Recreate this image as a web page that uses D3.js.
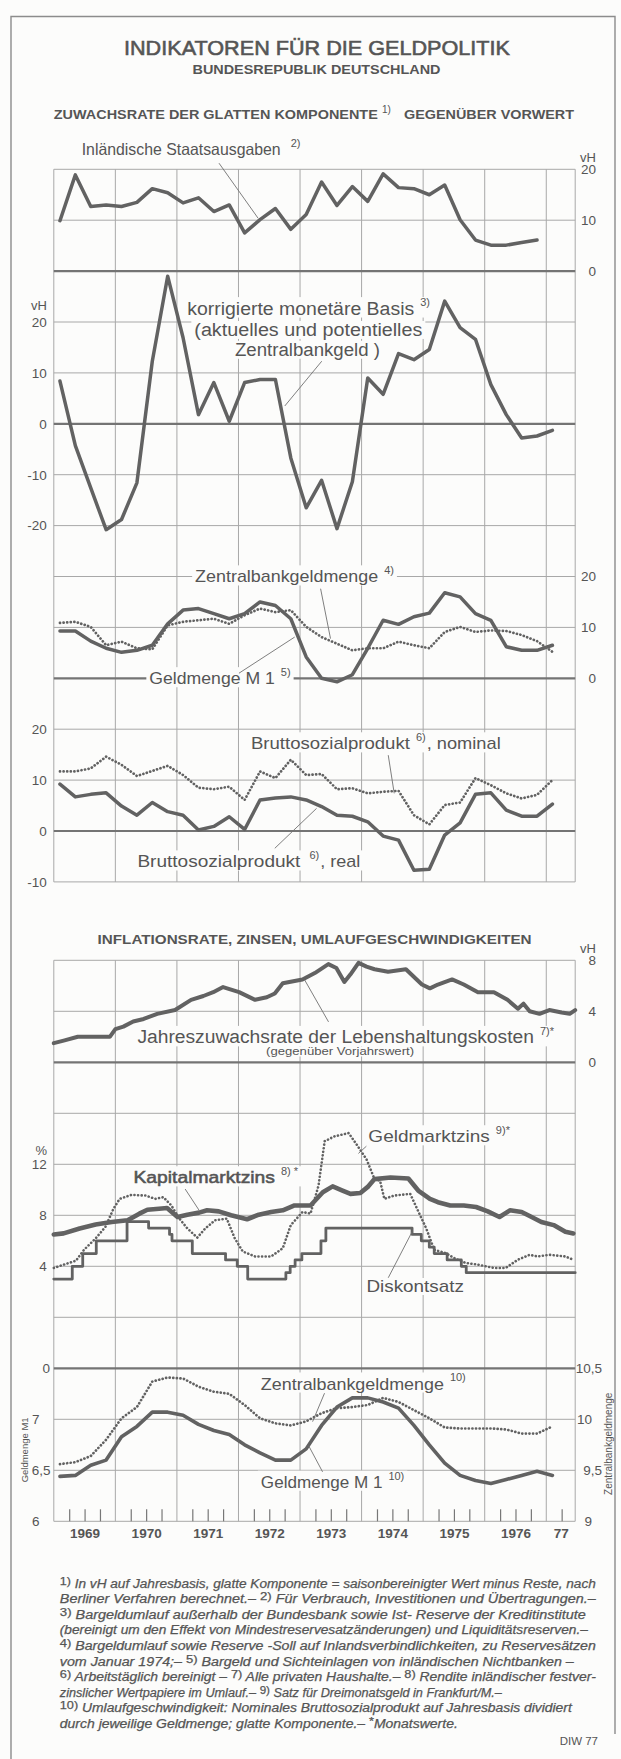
<!DOCTYPE html>
<html>
<head>
<meta charset="utf-8">
<title>Indikatoren für die Geldpolitik</title>
<script src="https://cdn.jsdelivr.net/npm/d3@7"></script>
<style>
  body { margin: 0; background: #fcfcfb; }
  text { font-family: "Liberation Sans", Arial, sans-serif; fill: #555; }
</style>
</head>
<body>
<svg width="621" height="1759"></svg>
<script>
// Werte

const jahre = ["1969", "1970", "1971", "1972", "1973", "1974", "1975", "1976", "77"];

// Quartalswerte ab I/1969 (Zuwachsrate der glatten Komponente, vH)
const staatsausgaben = [9.9, 18.9, 12.7, 13.0, 12.7, 13.5, 16.2, 15.4, 13.4, 14.4, 11.7, 13.0, 7.5, 10.1, 12.3, 8.2,
    11.1, 17.5, 12.9, 16.6, 13.7, 19.1, 16.4, 16.2, 15.0, 16.9, 10.1, 6.1, 5.1, 5.1, 5.6, 6.1];
const monetaereBasis = [8.4, -4.3, -12.6, -20.8, -18.8, -11.6, 12.3, 29.0, 16.9, 1.8, 8.1, 0.5, 8.1, 8.7, 8.7, -6.7,
    -16.5, -11.1, -20.6, -11.4, 9.0, 5.8, 13.8, 12.6, 14.6, 24.1, 18.9, 16.6, 7.7, 1.8, -2.8, -2.4, -1.3];
const zbgMenge = [10.9, 11.1, 10.1, 6.5, 7.2, 5.9, 5.7, 10.4, 11.1, 11.4, 11.7, 10.7, 12.4, 13.7, 13.0, 13.4,
    10.1, 8.1, 6.8, 5.5, 5.9, 5.9, 7.2, 6.5, 5.9, 9.1, 10.1, 9.1, 9.4, 9.3, 8.5, 7.3, 5.2];
const geldmengeM1 = [9.3, 9.3, 7.3, 5.9, 5.1, 5.5, 6.5, 10.7, 13.4, 13.7, 12.7, 11.7, 12.7, 15.0, 14.3, 11.7,
    4.2, 0.0, -0.7, 0.7, 5.9, 11.4, 10.6, 12.1, 12.8, 16.8, 16.0, 12.7, 11.4, 6.2, 5.5, 5.5, 6.5];
const bspNominal = [11.7, 11.7, 12.3, 14.6, 13.0, 10.8, 11.8, 12.8, 11.0, 8.5, 8.2, 8.7, 6.1, 11.7, 10.4, 14.0,
    11.0, 11.2, 8.2, 8.4, 7.4, 7.7, 7.9, 3.1, 1.3, 5.1, 5.6, 10.4, 9.0, 7.4, 6.4, 7.1, 10.0];
const bspReal = [9.2, 6.7, 7.2, 7.5, 4.9, 3.1, 5.6, 3.8, 3.1, 0.2, 0.9, 2.8, 0.3, 6.1, 6.5, 6.7,
    6.1, 4.8, 3.1, 2.9, 1.8, -1.0, -1.8, -7.7, -7.5, -0.8, 1.6, 7.2, 7.5, 4.1, 2.9, 2.9, 5.3];

// Umlaufgeschwindigkeiten (Quartale ab I/1969)
const umlaufM1 = [6.44, 6.45, 6.55, 6.60, 6.83, 6.93, 7.07, 7.07, 7.04, 6.95, 6.89, 6.85, 6.75, 6.67, 6.60, 6.60,
    6.71, 6.94, 7.12, 7.21, 7.21, 7.17, 7.11, 6.94, 6.75, 6.57, 6.45, 6.40, 6.37, 6.41, 6.45, 6.49, 6.45];
const umlaufZbg = [9.56, 9.58, 9.64, 9.80, 10.01, 10.12, 10.37, 10.41, 10.40, 10.32, 10.27, 10.25, 10.14, 10.01, 9.96, 9.94,
    9.98, 10.06, 10.11, 10.12, 10.14, 10.21, 10.17, 10.09, 10.01, 9.92, 9.91, 9.91, 9.91, 9.90, 9.86, 9.86, 9.93];

// Monatswerte: Zeitpunkt (Jahr dezimal) und Wert
const lhkZeit = [1969.00, 1969.16, 1969.39, 1969.68, 1969.91, 1970.00, 1970.13, 1970.29, 1970.46, 1970.68, 1970.97,
    1971.23, 1971.43, 1971.59, 1971.75, 1972.01, 1972.27, 1972.46, 1972.59, 1972.72, 1973.04, 1973.24, 1973.46,
    1973.59, 1973.72, 1973.82, 1973.95, 1974.08, 1974.21, 1974.43, 1974.72, 1974.98, 1975.11, 1975.24, 1975.47,
    1975.66, 1975.89, 1976.15, 1976.37, 1976.54, 1976.63, 1976.73, 1976.89, 1977.05, 1977.25, 1977.38, 1977.47];
const lhkWert = [1.5, 1.7, 2.0, 2.0, 2.0, 2.6, 2.8, 3.2, 3.4, 3.8, 4.1,
    4.9, 5.2, 5.5, 5.9, 5.5, 4.9, 5.1, 5.4, 6.2, 6.5, 7.0, 7.7,
    7.4, 6.3, 6.9, 7.8, 7.5, 7.3, 7.1, 7.3, 6.1, 5.8, 6.1, 6.5,
    6.1, 5.5, 5.5, 4.9, 4.2, 4.6, 4.0, 3.8, 4.1, 3.9, 3.8, 4.1];

const kapitalZeit = [1969.00, 1969.16, 1969.42, 1969.68, 1969.94, 1970.20, 1970.39, 1970.52, 1970.71, 1970.84,
    1971.01, 1971.17, 1971.36, 1971.49, 1971.68, 1971.88, 1972.14, 1972.33, 1972.53, 1972.72, 1972.91, 1973.17,
    1973.37, 1973.53, 1973.69, 1973.82, 1973.98, 1974.11, 1974.21, 1974.47, 1974.76, 1974.92, 1975.11, 1975.24,
    1975.44, 1975.66, 1975.86, 1976.05, 1976.24, 1976.41, 1976.60, 1976.73, 1976.92, 1977.12, 1977.31, 1977.44];
const kapitalWert = [6.50, 6.58, 6.97, 7.28, 7.48, 7.61, 8.13, 8.44, 8.52, 8.57,
    7.87, 8.05, 8.21, 8.39, 8.31, 8.00, 7.69, 8.05, 8.26, 8.39, 8.77, 8.77,
    9.81, 10.27, 9.94, 9.68, 9.75, 10.27, 10.84, 10.97, 10.89, 9.94, 9.29, 9.03,
    8.77, 8.77, 8.65, 8.31, 7.87, 8.39, 8.26, 7.95, 7.48, 7.23, 6.71, 6.58];

const geldmarktZeit = [1969.00, 1969.16, 1969.36, 1969.49, 1969.68, 1969.84, 1969.97, 1970.07, 1970.26, 1970.49,
    1970.65, 1970.78, 1970.91, 1971.04, 1971.17, 1971.33, 1971.46, 1971.62, 1971.81, 1971.94, 1972.07, 1972.27,
    1972.53, 1972.72, 1972.85, 1973.04, 1973.17, 1973.30, 1973.40, 1973.56, 1973.79, 1973.92, 1974.08, 1974.21,
    1974.30, 1974.37, 1974.53, 1974.79, 1974.95, 1975.05, 1975.18, 1975.37, 1975.50, 1975.69, 1975.89, 1976.15,
    1976.34, 1976.54, 1976.73, 1976.86, 1977.05, 1977.31, 1977.44];
const geldmarktWert = [3.87, 4.13, 4.44, 5.29, 6.19, 7.10, 8.52, 9.29, 9.60, 9.55,
    9.29, 9.42, 8.77, 7.74, 6.97, 6.25, 6.97, 7.61, 7.74, 6.19, 5.16, 4.77,
    4.77, 5.42, 7.23, 8.26, 8.13, 10.32, 13.81, 14.19, 14.45, 13.55, 12.39, 10.84,
    10.71, 9.29, 9.55, 9.68, 8.00, 6.97, 5.29, 5.03, 4.65, 4.26, 4.13, 3.87,
    3.87, 4.52, 4.90, 4.77, 4.90, 4.77, 4.52];

// Diskontsatz: Datum der Änderung und neuer Satz
const diskontZeit = [1969.00, 1969.30, 1969.47, 1969.69, 1970.19, 1970.54, 1970.88, 1970.92, 1971.25, 1971.79,
    1971.98, 1972.15, 1972.77, 1972.84, 1972.92, 1973.03, 1973.34, 1973.42, 1974.82, 1974.97, 1975.10, 1975.18,
    1975.39, 1975.62, 1975.70, 1977.47];
const diskontWert = [3.0, 4.0, 5.0, 6.0, 7.5, 7.0, 6.5, 6.0, 5.0, 4.5,
    4.0, 3.0, 3.5, 4.0, 4.5, 5.0, 6.0, 7.0, 6.5, 6.0, 5.5, 5.0,
    4.5, 4.0, 3.5, 3.5];

const fussnoten = [
    [["1)", 1], [" In vH auf Jahresbasis, glatte Komponente = saisonbereinigter Wert minus Reste, nach"]],
    [["Berliner Verfahren berechnet.– "], ["2)", 1], [" Für Verbrauch, Investitionen und Übertragungen.–"]],
    [["3)", 1], [" Bargeldumlauf außerhalb der Bundesbank sowie Ist- Reserve der Kreditinstitute"]],
    [["(bereinigt um den Effekt von Mindestreservesatzänderungen) und Liquiditätsreserven.–"]],
    [["4)", 1], [" Bargeldumlauf sowie Reserve -Soll auf Inlandsverbindlichkeiten, zu Reservesätzen"]],
    [["vom Januar 1974;– "], ["5)", 1], [" Bargeld und Sichteinlagen von inländischen Nichtbanken –"]],
    [["6)", 1], [" Arbeitstäglich bereinigt – "], ["7)", 1], [" Alle privaten Haushalte.– "], ["8)", 1], [" Rendite inländischer festver-"]],
    [["zinslicher Wertpapiere im Umlauf.– "], ["9)", 1], [" Satz für Dreimonatsgeld in Frankfurt/M.–"]],
    [["10)", 1], [" Umlaufgeschwindigkeit: Nominales Bruttosozialprodukt auf Jahresbasis dividiert"]],
    [["durch jeweilige Geldmenge; glatte Komponente.– "], ["*", 1], ["Monatswerte."]]
];
const fussBreite = [536, 536, 526, 528, 536, 514, 536, 442, 512, 398];


const svg = d3.select("svg");
const hell = "#fcfcfb", tinte = "#555", strich = "#626262", raster = "#a8a8a8";

const x = d3.scaleLinear().domain([1969, 1977.47]).range([53.8, 575.2]);
const quartal = d3.range(33).map(function(i) { return 1969.1 + i * 0.25; });

const y1 = d3.scaleLinear().domain([0, 20]).range([271.1, 169.3]);
const y2 = d3.scaleLinear().domain([-30, 30]).range([576.5, 271.1]);
const y3 = d3.scaleLinear().domain([-10, 20]).range([729.2, 576.5]);
const y4 = d3.scaleLinear().domain([-10, 20]).range([881.9, 729.2]);
const y5 = d3.scaleLinear().domain([0, 8]).range([1062.3, 960.3]);
const y6 = d3.scaleLinear().domain([0, 16]).range([1317.3, 1113.3]);
const y7 = d3.scaleLinear().domain([6, 7.5]).range([1521.3, 1368.3]);
const y7r = d3.scaleLinear().domain([9, 10.5]).range([1521.3, 1368.3]);

const komma = function(d) { return String(d).replace(".", ","); };

// Rahmen
svg.append("path")
    .attr("d", "M11,1759V16.5H615V1734")
    .attr("fill", "none")
    .attr("stroke", "#8c8c8c")
    .attr("stroke-width", 1.4);

// Überschriften
function titel(txt, tx, ty, size, breite, bold) {
    return svg.append("text")
        .attr("x", tx).attr("y", ty).attr("dy", "0.35em")
        .attr("textLength", breite).attr("lengthAdjust", "spacingAndGlyphs")
        .style("font-size", size + "px")
        .style("font-weight", bold ? "bold" : "normal")
        .text(txt);
}
titel("INDIKATOREN FÜR DIE GELDPOLITIK", 124, 48, 21, 386, false)
    .style("stroke", tinte).style("stroke-width", 0.6);
titel("BUNDESREPUBLIK DEUTSCHLAND", 192.5, 70, 12.5, 248, true);
titel("ZUWACHSRATE DER GLATTEN KOMPONENTE", 53.8, 114, 13, 324, true);
svg.append("text").attr("x", 382).attr("y", 109).attr("dy", "0.35em")
    .style("font-size", "10px").text("1)");
titel("GEGENÜBER VORWERT", 404, 114, 13, 170, true);
titel("INFLATIONSRATE, ZINSEN, UMLAUFGESCHWINDIGKEITEN", 97.6, 939, 13, 434, true);

// Raster
const gitter = svg.append("g").attr("stroke", raster).attr("stroke-width", 1).attr("fill", "none");
const senkrecht = d3.range(1969, 1978).concat([x.domain()[1]]);
[[y1(20), y4(-10)], [y5(8), y7(6)]].forEach(function(s) {
    gitter.selectAll(null)
        .data(senkrecht)
        .enter().append("line")
            .attr("x1", function(d) { return x(d); })
            .attr("x2", function(d) { return x(d); })
            .attr("y1", s[0])
            .attr("y2", s[1]);
});

const waagerecht = [
    {y: y1, werte: [0, 10, 20], null: 0},
    {y: y2, werte: [-20, -10, 0, 10, 20], null: 0},
    {y: y3, werte: [-10, 0, 10, 20], null: 0},
    {y: y4, werte: [-10, 0, 10], null: 0},
    {y: y5, werte: [0, 4, 8], null: 0},
    {y: y6, werte: [0, 4, 8, 12, 16], null: null},
    {y: y7, werte: [6, 6.5, 7, 7.5], null: 7.5}
];
waagerecht.forEach(function(p) {
    gitter.selectAll(null)
        .data(p.werte)
        .enter().append("line")
            .attr("x1", x(1969))
            .attr("x2", x.range()[1])
            .attr("y1", function(d) { return p.y(d); })
            .attr("y2", function(d) { return p.y(d); })
            .attr("stroke", function(d) { return d === p.null ? "#747474" : raster; })
            .attr("stroke-width", function(d) { return d === p.null ? 2.2 : 1; });
});

// Kurven
function kurve(zeit, werte, yScale, breite, gepunktet, kurvenart) {
    const line = d3.line()
        .x(function(d, i) { return x(zeit[i]); })
        .y(function(d) { return yScale(d); })
        .curve(kurvenart || d3.curveLinear);
    const p = svg.append("path")
        .datum(werte)
        .attr("d", line)
        .attr("fill", "none")
        .attr("stroke", strich)
        .attr("stroke-width", breite)
        .attr("stroke-linejoin", "round")
        .attr("stroke-linecap", "round");
    if (gepunktet) p.attr("stroke-dasharray", "0.1 3.5");
    return p;
}

kurve(quartal, staatsausgaben, y1, 3.5);
kurve(quartal, monetaereBasis, y2, 3.5);
kurve(quartal, zbgMenge, y3, 2.7, true);
kurve(quartal, geldmengeM1, y3, 3.5);
kurve(quartal, bspNominal, y4, 2.7, true);
kurve(quartal, bspReal, y4, 3.5);
kurve(lhkZeit, lhkWert, y5, 4);
kurve(diskontZeit, diskontWert, y6, 2.8, false, d3.curveStepAfter);
kurve(geldmarktZeit, geldmarktWert, y6, 2.6, true);
kurve(kapitalZeit, kapitalWert, y6, 4.6);
kurve(quartal, umlaufZbg, y7r, 2.7, true);
kurve(quartal, umlaufM1, y7, 3.6);

// Beschriftungen der Kurven
function schild(t, v, yScale, txt, breite, o) {
    o = o || {};
    const size = o.size || 17;
    const g = svg.append("g");
    const x0 = x(t), yy = yScale(v);
    const haupt = g.append("text")
        .attr("x", x0).attr("y", yy).attr("dy", "0.35em")
        .attr("textLength", breite).attr("lengthAdjust", "spacingAndGlyphs")
        .style("font-size", size + "px")
        .text(txt);
    if (o.kraeftig) haupt.style("stroke", tinte).style("stroke-width", 0.55);
    let ende = x0 + breite;
    if (o.sup) {
        const s = g.append("text")
            .attr("x", ende + (o.abstand || 6)).attr("y", yy - 6).attr("dy", "0.35em")
            .style("font-size", "11px")
            .text(o.sup);
        ende = ende + (o.abstand || 6) + s.node().getComputedTextLength();
    }
    if (o.rest) {
        g.append("text")
            .attr("x", ende + 1).attr("y", yy).attr("dy", "0.35em")
            .attr("textLength", o.restBreite).attr("lengthAdjust", "spacingAndGlyphs")
            .style("font-size", size + "px")
            .text(o.rest);
    }
    const b = g.node().getBBox();
    g.insert("rect", ":first-child")
        .attr("x", b.x - 3).attr("y", b.y + 1)
        .attr("width", b.width + 6).attr("height", b.height - 2)
        .attr("fill", hell);
}

schild(1969.453, 24.0, y1, "Inländische Staatsausgaben", 199, {size: 16.5, sup: "2)", abstand: 10});
schild(1971.167, 22.7, y2, "korrigierte monetäre Basis", 227, {size: 18, sup: "3)"});
schild(1971.283, 18.5, y2, "(aktuelles und potentielles", 228, {size: 18});
schild(1971.943, 14.6, y2, "Zentralbankgeld )", 145, {size: 18});
schild(1971.296, 20, y3, "Zentralbankgeldmenge", 183, {sup: "4)"});
schild(1970.552, 0, y3, "Geldmenge M 1", 125.5, {sup: "5)"});
schild(1972.202, 17.2, y4, "Bruttosozialprodukt", 159, {sup: "6)", rest: ", nominal", restBreite: 74});
schild(1970.358, -6.0, y4, "Bruttosozialprodukt", 163, {sup: "6)", abstand: 9, rest: ", real", restBreite: 40});
schild(1970.358, 1.98, y5, "Jahreszuwachsrate der Lebenshaltungskosten", 396.5, {size: 18, sup: "7)*"});
schild(1972.448, 0.84, y5, "(gegenüber Vorjahrswert)", 148, {size: 11});
schild(1974.110, 14.19, y6, "Geldmarktzins", 121.5, {sup: "9)*"});
schild(1970.294, 10.97, y6, "Kapitalmarktzins", 141.5, {kraeftig: true, sup: "8) *"});
schild(1974.078, 2.45, y6, "Diskontsatz", 97.6);
schild(1972.364, 7.35, y7, "Zentralbankgeldmenge", 183, {sup: "10)"});
schild(1972.364, 6.387, y7, "Geldmenge M 1", 121.5, {sup: "10)"});

// Hinweislinien
const hinweise = [
    {y: y1, a: [1971.684, 21.2], b: [1972.318, 10.4]},
    {y: y2, a: [1973.353, 12.3], b: [1972.752, 3.5]},
    {y: y3, a: [1973.334, 17.6], b: [1973.495, 7.8]},
    {y: y3, a: [1972.008, 1.0], b: [1972.913, 8.1]},
    {y: y4, a: [1974.433, 14.9], b: [1974.530, 7.4]},
    {y: y4, a: [1972.590, -3.4], b: [1973.269, 4.45]},
    {y: y5, a: [1973.075, 6.46], b: [1973.463, 3.17]},
    {y: y6, a: [1974.078, 13.42], b: [1973.948, 12.85]},
    {y: y6, a: [1971.134, 10.06], b: [1971.361, 8.39]},
    {y: y6, a: [1974.433, 3.1], b: [1974.821, 6.71]},
    {y: y7, a: [1973.398, 7.256], b: [1973.204, 6.977]},
    {y: y7, a: [1973.366, 6.485], b: [1973.140, 6.741]}
];
svg.append("g")
    .selectAll("line")
    .data(hinweise)
    .enter().append("line")
        .attr("x1", function(d) { return x(d.a[0]); })
        .attr("y1", function(d) { return d.y(d.a[1]); })
        .attr("x2", function(d) { return x(d.b[0]); })
        .attr("y2", function(d) { return d.y(d.b[1]); })
        .attr("stroke", "#707070")
        .attr("stroke-width", 0.9);

// Achsen
function achse(scale, werte, xPos, abstand, format) {
    const g = svg.append("g")
        .attr("transform", "translate(" + xPos + ",0)")
        .call(d3.axisLeft(scale).tickValues(werte).tickSize(0).tickPadding(abstand).tickFormat(format || komma));
    g.select(".domain").remove();
    g.selectAll("text").style("font-size", "13.5px");
    return g;
}
const links = x(1969), rechts = 600;
achse(y1, [0, 10, 20], rechts, 4);
achse(y2, [-20, -10, 0, 10, 20], links, 7);
achse(y3, [0, 10, 20], rechts, 4);
achse(y4, [-10, 0, 10, 20], links, 7);
achse(y5, [0, 4, 8], rechts, 4);
achse(y6, [4, 8, 12], links, 7);
// Kommastellen hängen über die Ganzzahlen hinaus
achse(y7, [6, 6.5, 7, 7.5], links, 14.3, function(d) { return d === 7.5 ? "0" : komma(d); })
    .selectAll("text")
    .attr("dx", function(d) { return d === 7.5 ? 10.5 : (d % 1 ? 11 : 0); });
achse(y7r, [9, 9.5, 10, 10.5], rechts, 8)
    .selectAll("text")
    .attr("dx", function(d) { return d % 1 ? 10 : 0; });

function einheit(txt, tx, ty, anchor) {
    svg.append("text").attr("x", tx).attr("y", ty).attr("dy", "0.35em")
        .attr("text-anchor", anchor).style("font-size", "13px").text(txt);
}
einheit("vH", 596, y1(22.3), "end");
einheit("vH", 47, y2(23.3), "end");
einheit("vH", 596, y5(8.94), "end");
einheit("%", 47, y6(13.1), "end");

svg.append("text")
    .attr("transform", "translate(25," + y7(6.70) + ") rotate(-90)")
    .attr("text-anchor", "middle").attr("dy", "0.35em")
    .style("font-size", "9.5px")
    .text("Geldmenge M1");
svg.append("text")
    .attr("transform", "translate(608.5," + y7r(9.76) + ") rotate(-90)")
    .attr("text-anchor", "middle").attr("dy", "0.35em")
    .style("font-size", "10px")
    .text("Zentralbankgeldmenge");

// Jahresachse mit Quartalsstrichen
const viertel = [];
d3.range(1969, 1977).forEach(function(j) { viertel.push(j + 0.25, j + 0.5, j + 0.75); });
viertel.push(1977.25);
const qa = svg.append("g")
    .attr("transform", "translate(0," + y7(6) + ")")
    .call(d3.axisBottom(x).tickValues(viertel).tickSize(-12));
qa.select(".domain").remove();
qa.selectAll("text").remove();
qa.selectAll("line").attr("stroke", "#777").attr("stroke-width", 1.2);

const mitten = d3.range(1969.5, 1977, 1).concat([1977.235]);
const ja = svg.append("g")
    .attr("transform", "translate(0," + y7(6) + ")")
    .call(d3.axisBottom(x).tickValues(mitten).tickSize(0).tickPadding(7)
        .tickFormat(function(d, i) { return jahre[i]; }));
ja.select(".domain").remove();
ja.selectAll("text").style("font-size", "13.5px").style("font-weight", "bold");

// Fußnoten
fussnoten.forEach(function(zeile, i) {
    const t = svg.append("text")
        .attr("x", 59.8).attr("y", 1587.5 + i * 15.6)
        .attr("textLength", fussBreite[i]).attr("lengthAdjust", "spacingAndGlyphs")
        .style("font-size", "12px").style("font-style", "italic")
        .style("stroke", tinte).style("stroke-width", 0.25);
    let oben = false;
    zeile.forEach(function(teil) {
        const sp = t.append("tspan").text(teil[0]);
        if (teil[1]) {
            sp.attr("dy", -3).style("font-style", "normal").style("font-size", "11px");
            oben = true;
        } else if (oben) {
            sp.attr("dy", 3);
            oben = false;
        }
    });
});
svg.append("text")
    .attr("x", 598).attr("y", 1745)
    .attr("text-anchor", "end")
    .style("font-size", "11.5px")
    .text("DIW 77");
</script>
</body>
</html>
